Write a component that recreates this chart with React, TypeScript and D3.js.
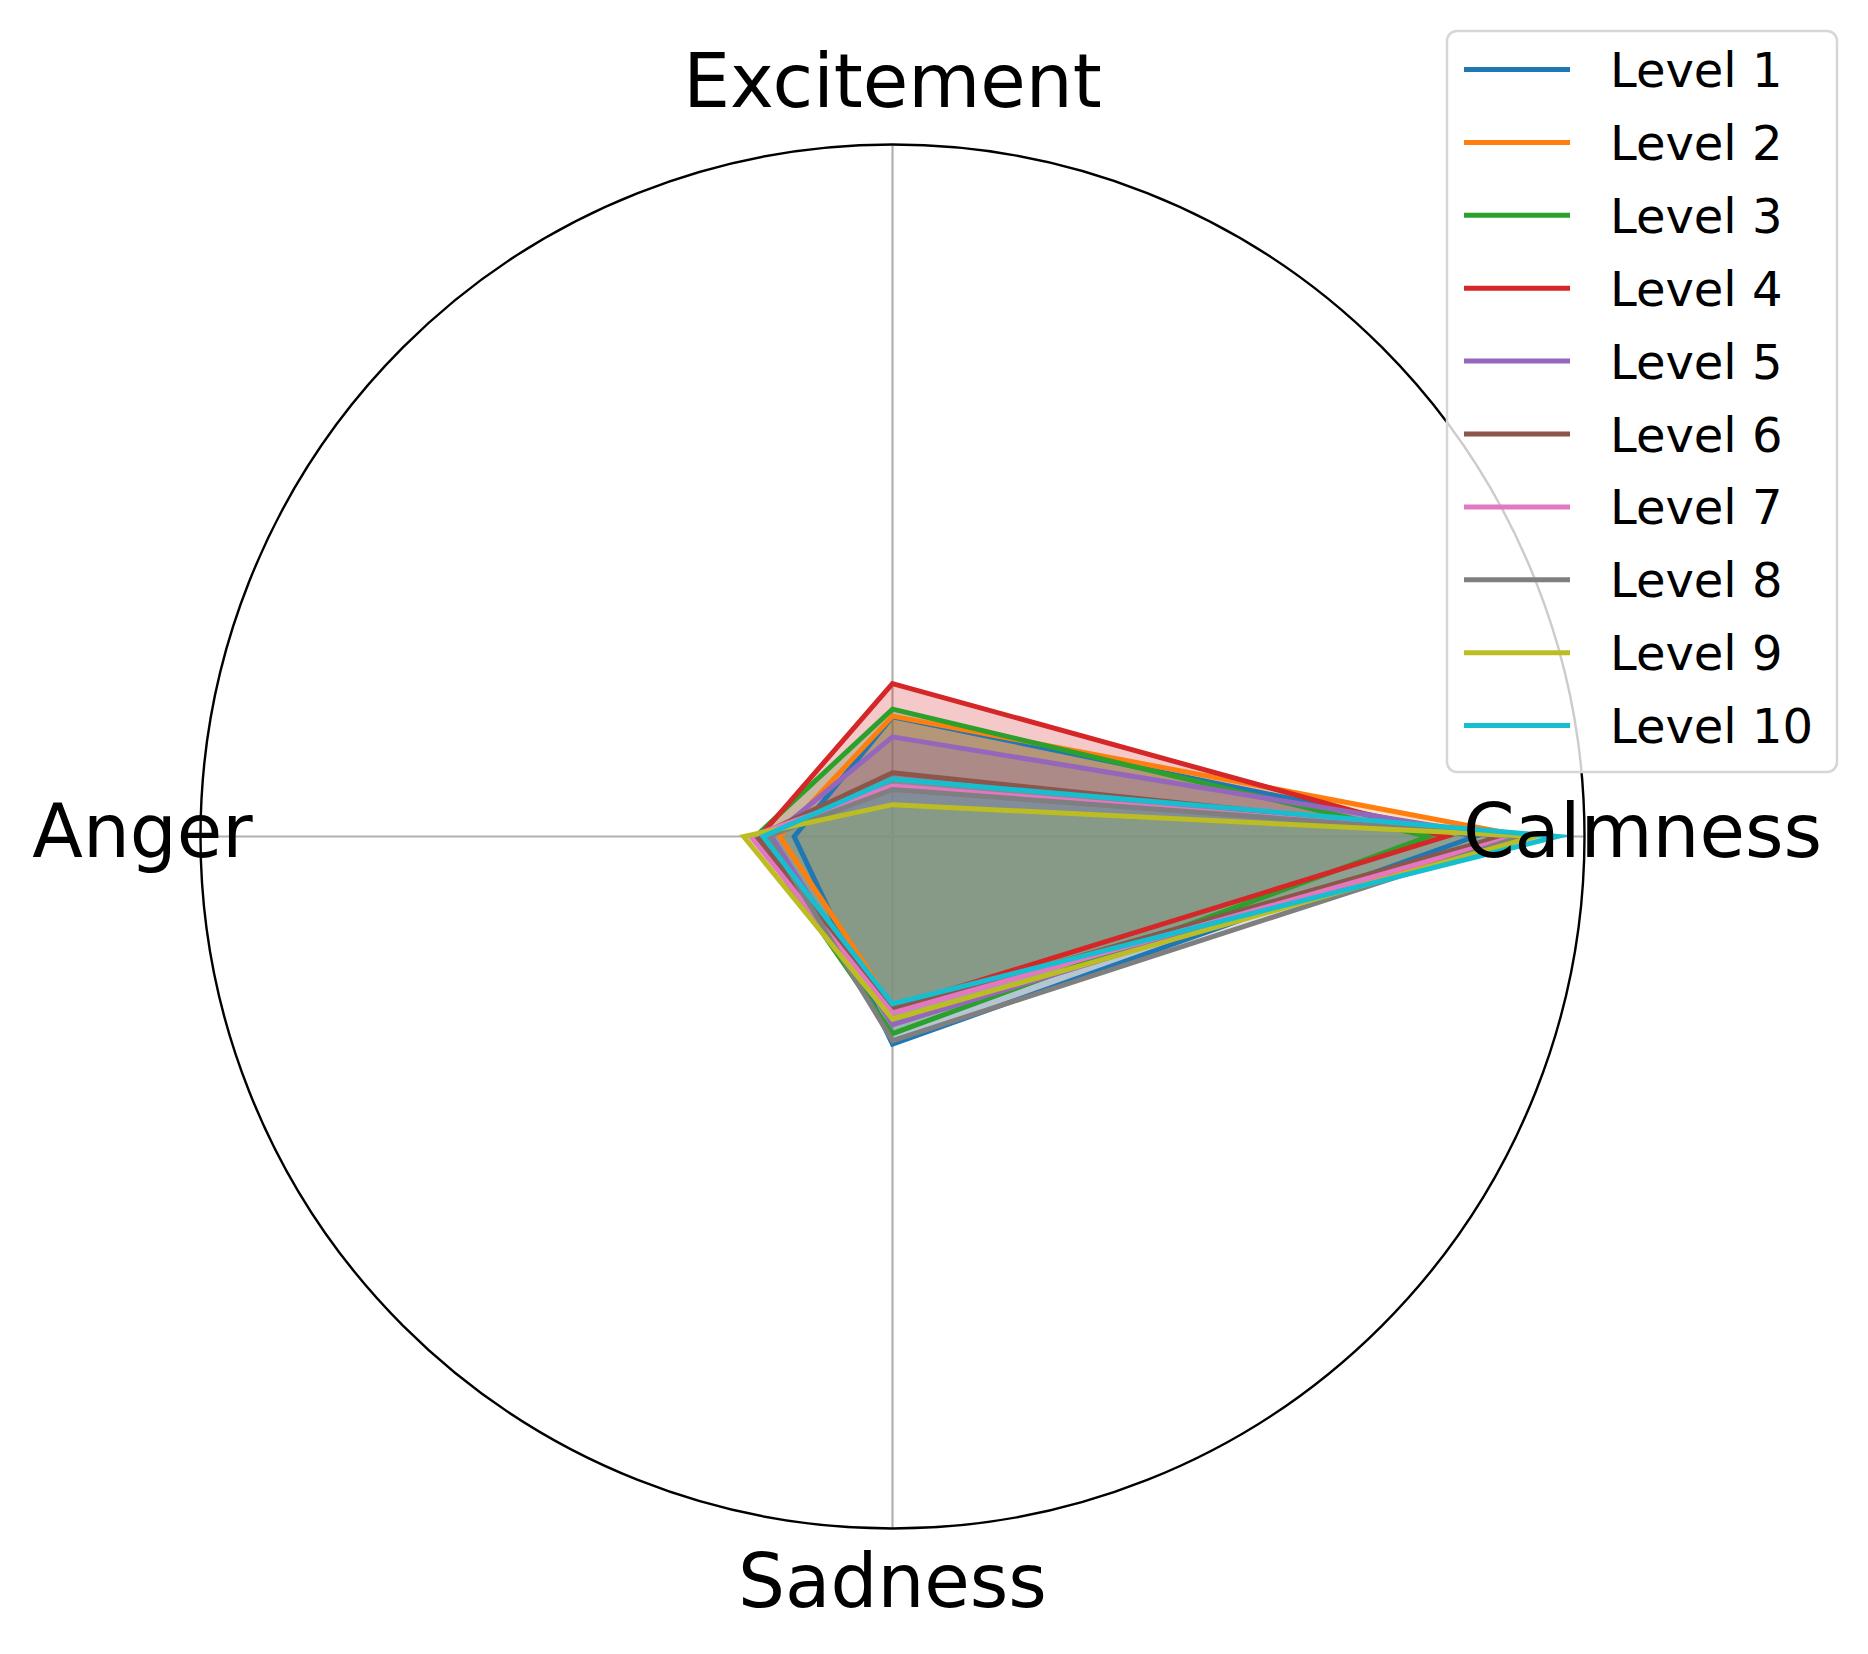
import React from "react";
import * as d3 from "d3";

const categories = ["Excitement", "Calmness", "Sadness", "Anger"];
const seriesNames = ["Level 1", "Level 2", "Level 3", "Level 4", "Level 5", "Level 6", "Level 7", "Level 8", "Level 9", "Level 10"];
const level1 = [0.173, 0.842, 0.3, 0.142];
const level2 = [0.174, 0.915, 0.245, 0.163];
const level3 = [0.184, 0.774, 0.285, 0.198];
const level4 = [0.221, 0.8, 0.247, 0.192];
const level5 = [0.144, 0.878, 0.272, 0.175];
const level6 = [0.092, 0.88, 0.25, 0.196];
const level7 = [0.073, 0.9, 0.255, 0.205];
const level8 = [0.068, 0.909, 0.295, 0.18];
const level9 = [0.046, 0.928, 0.264, 0.215];
const level10 = [0.083, 0.961, 0.242, 0.187];
const seriesValues = [level1, level2, level3, level4, level5, level6, level7, level8, level9, level10];
const colors = ["#1f77b4", "#ff7f0e", "#2ca02c", "#d62728", "#9467bd", "#8c564b", "#e377c2", "#7f7f7f", "#bcbd22", "#17becf"];
const rMax = 1;

export default function App() {
  const W = 1868, H = 1654;
  const cx = 892.5, cy = 836.5, R = 692;
  const r = d3.scaleLinear().domain([0, rMax]).range([0, R]);
  const angle = (i: number) => (i * 2 * Math.PI) / categories.length;
  const line = d3
    .lineRadial<number>()
    .angle((_, i) => angle(i))
    .radius((d) => r(d))
    .curve(d3.curveLinearClosed);
  const labelR = 750;
  const font = "'DejaVu Sans', sans-serif";
  const legX = 1447, legY = 31, legW = 390, legH = 741;
  const rowY = (i: number) => 69.5 + i * 72.9;

  return (
    <svg width={W} height={H} style={{ position: "absolute", left: 0, top: 0, background: "#fff" }} fontFamily={font}>
      <rect x={0} y={0} width={W} height={H} fill="#fff" />
      <g transform={`translate(${cx},${cy})`}>
        {categories.map((c, i) => {
          const a = angle(i);
          return (
            <line key={c} x1={0} y1={0} x2={R * Math.sin(a)} y2={-R * Math.cos(a)} stroke="#b0b0b0" strokeWidth={2.2} />
          );
        })}
        {seriesValues.map((vals, k) => (
          <path key={"f" + k} d={line(vals) || ""} fill={colors[k]} fillOpacity={0.25} stroke="none" />
        ))}
        {seriesValues.map((vals, k) => (
          <path key={"l" + k} d={line(vals) || ""} fill="none" stroke={colors[k]} strokeWidth={5} strokeLinejoin="miter" strokeMiterlimit={10} />
        ))}
        <circle r={R} fill="none" stroke="#000" strokeWidth={2.4} />
        {categories.map((c, i) => {
          const a = angle(i);
          const x = labelR * Math.sin(a);
          const y = -labelR * Math.cos(a);
          return (
            <text key={c} x={x} y={y + 20} textAnchor="middle" fontSize={74} fill="#000">
              {c}
            </text>
          );
        })}
      </g>
      <g>
        <rect x={legX} y={legY} width={legW} height={legH} rx={10} ry={10} fill="#fff" fillOpacity={0.8} stroke="#d6d6d6" strokeWidth={2.5} />
        {seriesNames.map((n, i) => (
          <g key={n}>
            <line x1={1464} x2={1570} y1={rowY(i)} y2={rowY(i)} stroke={colors[i]} strokeWidth={5} />
            <text x={1610} y={rowY(i) + 17.5} fontSize={48} fill="#000">
              {n}
            </text>
          </g>
        ))}
      </g>
    </svg>
  );
}
